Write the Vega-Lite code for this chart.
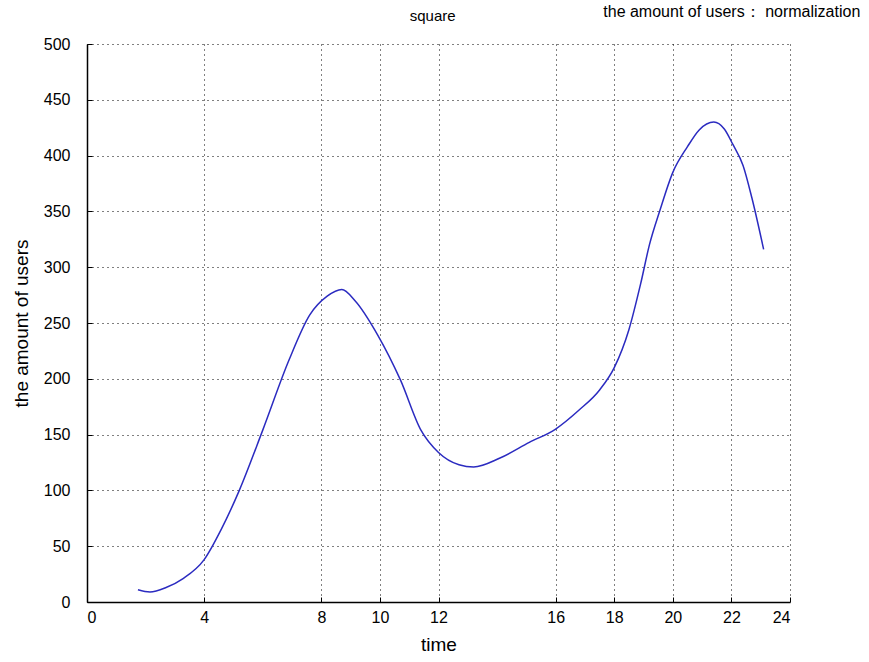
{
  "$schema": "https://vega.github.io/schema/vega-lite/v6.json",
  "width": 703,
  "height": 558,
  "autosize": "none",
  "padding": {"left": 87, "top": 44, "right": 79, "bottom": 60},
  "background": "white",
  "config": {
    "view": {"stroke": null},
    "axis": {"labelFont": "Liberation Sans", "titleFont": "Liberation Sans", "labelFontSize": 16, "titleFontSize": 19, "titleFontWeight": "normal", "labelColor": "black", "titleColor": "black", "domainColor": "black", "tickColor": "black", "gridColor": "black", "gridDash": [1, 4], "gridOpacity": 1, "gridWidth": 1}
  },
  "layer": [
    {
      "data": {"values": [
        {"time": 1.74, "users": 11},
        {"time": 2.15, "users": 9},
        {"time": 2.7, "users": 13},
        {"time": 3.28, "users": 21},
        {"time": 4.0, "users": 38},
        {"time": 4.6, "users": 66},
        {"time": 5.2, "users": 100},
        {"time": 6.0, "users": 154},
        {"time": 6.9, "users": 217},
        {"time": 7.6, "users": 257},
        {"time": 8.2, "users": 274},
        {"time": 8.7, "users": 280},
        {"time": 9.15, "users": 270},
        {"time": 9.93, "users": 239},
        {"time": 10.7, "users": 199},
        {"time": 11.4, "users": 154},
        {"time": 12.0, "users": 134},
        {"time": 12.7, "users": 123},
        {"time": 13.2, "users": 121},
        {"time": 14.1, "users": 129},
        {"time": 15.1, "users": 143},
        {"time": 16.0, "users": 155},
        {"time": 16.8, "users": 172},
        {"time": 17.5, "users": 190},
        {"time": 18.0, "users": 210},
        {"time": 18.5, "users": 244},
        {"time": 18.9, "users": 285},
        {"time": 19.2, "users": 320},
        {"time": 19.56, "users": 351},
        {"time": 20.0, "users": 385},
        {"time": 20.5, "users": 408},
        {"time": 20.9, "users": 423},
        {"time": 21.4, "users": 430},
        {"time": 21.75, "users": 424},
        {"time": 22.05, "users": 410},
        {"time": 22.4, "users": 391},
        {"time": 22.7, "users": 362},
        {"time": 23.1, "users": 316}
      ]},
      "mark": {"type": "line", "color": "#2b2bc0", "strokeWidth": 1.5, "interpolate": "monotone"},
      "encoding": {
        "x": {"field": "time", "type": "quantitative", "scale": {"domain": [0, 24], "nice": false, "zero": false},
          "axis": {"title": "time", "values": [0, 4, 8, 10, 12, 16, 18, 20, 22, 24], "tickSize": -5, "labelPadding": 12, "titlePadding": 10, "domainWidth": 1.5, "tickWidth": 1}},
        "y": {"field": "users", "type": "quantitative", "scale": {"domain": [0, 500], "nice": false},
          "axis": {"title": "the amount of users", "values": [0, 50, 100, 150, 200, 250, 300, 350, 400, 450, 500], "tickSize": -5, "labelPadding": 22, "titlePadding": 12, "domainWidth": 1.5, "tickWidth": 1}}
      }
    },
    {
      "data": {"values": [{"label": "square", "tx": 11.8, "ty": 525}]},
      "mark": {"type": "text", "font": "Liberation Sans", "fontSize": 15, "align": "center", "baseline": "middle", "color": "black", "clip": false},
      "encoding": {
        "x": {"field": "tx", "type": "quantitative"},
        "y": {"field": "ty", "type": "quantitative"},
        "text": {"field": "label"}
      }
    },
    {
      "data": {"values": [{"label": "the amount of users： normalization", "tx": 26.4, "ty": 529}]},
      "mark": {"type": "text", "font": "Liberation Sans", "fontSize": 16, "align": "right", "baseline": "middle", "color": "black", "clip": false},
      "encoding": {
        "x": {"field": "tx", "type": "quantitative"},
        "y": {"field": "ty", "type": "quantitative"},
        "text": {"field": "label"}
      }
    }
  ]
}
